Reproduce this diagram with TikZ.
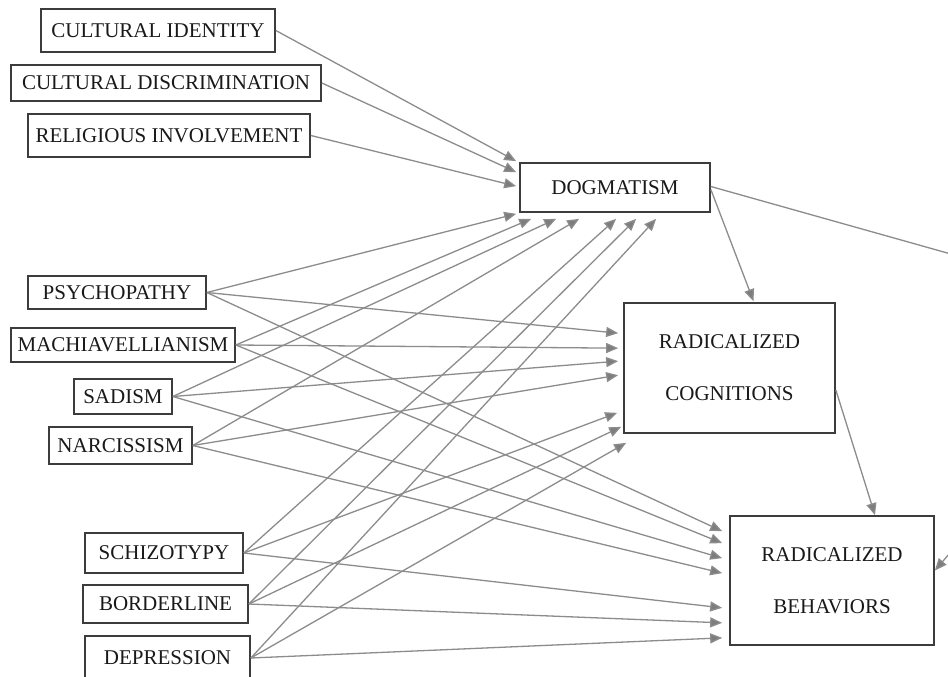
\documentclass[tikz,border=0pt]{standalone}
\usepackage{fontspec}
\setmainfont{Liberation Serif}
\usetikzlibrary{arrows.meta}
\definecolor{linegray}{RGB}{140,140,140}
\definecolor{tipgray}{RGB}{125,125,125}
\definecolor{boxgray}{RGB}{60,60,60}
\definecolor{textgray}{RGB}{25,25,25}

\begin{document}
\begin{tikzpicture}[x=1pt, y=-1pt,
    box/.style={draw=boxgray, line width=1.7pt, inner sep=0pt, text=textgray,
	font=\fontsize{21}{25}\selectfont},
    bigbox/.style={box, align=center, font=\fontsize{21}{52}\selectfont},
    link/.style={draw=linegray, line width=1.3pt,
	-{Triangle[length=12pt, width=10pt, fill=tipgray]}}]
    \useasboundingbox (0, 0) rectangle (948, 677);
    \clip (0, 0) rectangle (948, 677);
    \fill[white] (0, 0) rectangle (948, 677);

    \node[box, minimum width=234pt, minimum height=43pt] (cid) at (158, 30.5) {CULTURAL IDENTITY};
    \node[box, minimum width=310pt, minimum height=36pt] (cdis) at (166, 83) {CULTURAL DISCRIMINATION};
    \node[box, minimum width=282pt, minimum height=43pt] (rel) at (169, 135.5) {RELIGIOUS INVOLVEMENT};

    \node[box, minimum width=178pt, minimum height=33pt] (psy) at (117, 292.5) {PSYCHOPATHY};
    \node[box, minimum width=224pt, minimum height=34pt] (mach) at (123, 345) {MACHIAVELLIANISM};
    \node[box, minimum width=98pt, minimum height=35pt] (sad) at (123, 396.5) {SADISM};
    \node[box, minimum width=143pt, minimum height=37pt] (nar) at (120.5, 445.5) {NARCISSISM};

    \node[box, minimum width=158pt, minimum height=40pt] (sch) at (164, 553) {SCHIZOTYPY};
    \node[box, minimum width=165pt, minimum height=38pt] (bor) at (165.5, 604) {BORDERLINE};
    \node[box, minimum width=165pt, minimum height=44pt] (dep) at (167.5, 658) {DEPRESSION};

    \node[box, minimum width=190pt, minimum height=49pt] (dog) at (615, 187.5) {DOGMATISM};
    \node[bigbox, minimum width=211pt, minimum height=130pt] (cog) at (729.5, 368)
	{RADICALIZED\\ COGNITIONS};
    \node[bigbox, minimum width=204pt, minimum height=129pt] (beh) at (832, 580.5)
	{RADICALIZED\\ BEHAVIORS};

    \coordinate (turn1) at (990, 265);
    \coordinate (turn2) at (975, 524);

    \draw[link] (cid.east) -- ([xshift=-3pt, yshift=1pt]dog.north west);
    \draw[link] (cdis.east) -- ([xshift=-3pt, yshift=-10pt]dog.north west);
    \draw[link] (rel.east) -- ([xshift=-3pt, yshift=-24pt]dog.north west);

    \draw[link] (psy.east) -- ([xshift=-3pt, yshift=-1pt]dog.south west);
    \draw[link] (mach.east) -- ([xshift=12pt, yshift=-6pt]dog.south west);
    \draw[link] (sad.east) -- ([xshift=37pt, yshift=-6pt]dog.south west);
    \draw[link] (nar.east) -- ([xshift=60pt, yshift=-6pt]dog.south west);
    \draw[link] (sch.east) -- ([xshift=97pt, yshift=-6pt]dog.south west);
    \draw[link] (bor.east) -- ([xshift=117pt, yshift=-6pt]dog.south west);
    \draw[link] (dep.east) -- ([xshift=137pt, yshift=-6pt]dog.south west);

    \draw[link] (psy.east) -- ([xshift=-5pt, yshift=-31pt]cog.north west);
    \draw[link] (mach.east) -- ([xshift=-5pt, yshift=-46pt]cog.north west);
    \draw[link] (sad.east) -- ([xshift=-5pt, yshift=-59pt]cog.north west);
    \draw[link] (nar.east) -- ([xshift=-5pt, yshift=-73pt]cog.north west);
    \draw[link] (sch.east) -- ([xshift=-6pt, yshift=21pt]cog.south west);
    \draw[link] (bor.east) -- ([xshift=-2pt, yshift=7pt]cog.south west);
    \draw[link] (dep.east) -- ([xshift=3pt, yshift=-9pt]cog.south west);

    \draw[link] (psy.east) -- ([xshift=-7pt, yshift=-16pt]beh.north west);
    \draw[link] (mach.east) -- ([xshift=-7pt, yshift=-28pt]beh.north west);
    \draw[link] (sad.east) -- ([xshift=-7pt, yshift=-43pt]beh.north west);
    \draw[link] (nar.east) -- ([xshift=-7pt, yshift=-58pt]beh.north west);
    \draw[link] (sch.east) -- ([xshift=-7pt, yshift=38pt]beh.south west);
    \draw[link] (bor.east) -- ([xshift=-7pt, yshift=23pt]beh.south west);
    \draw[link] (dep.east) -- ([xshift=-7pt, yshift=8pt]beh.south west);

    \draw[link] ([yshift=-2pt]dog.east) -- ([xshift=24pt, yshift=1pt]cog.north);
    \draw[link] ([yshift=-22pt]cog.east) -- ([xshift=43pt]beh.north);
    \draw[link] ([yshift=1pt]dog.east) -- (turn1) -- (turn2) -- ([yshift=10pt]beh.east);
\end{tikzpicture}
\end{document}
